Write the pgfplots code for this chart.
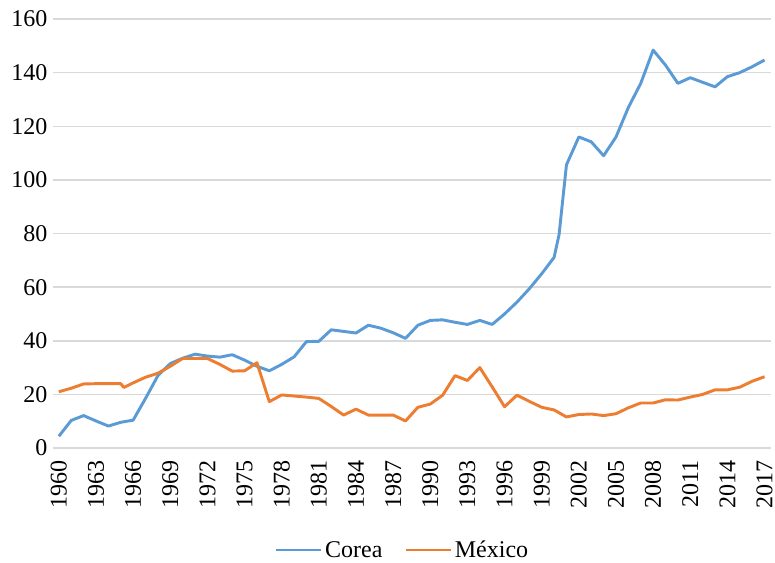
\documentclass[border=0pt]{standalone}
\usepackage{fontspec}
\setmainfont{Liberation Serif}
\usepackage{pgfplots}
\pgfplotsset{compat=1.18}
\definecolor{cblue}{HTML}{5B9BD5}
\definecolor{corange}{HTML}{ED7D31}
\definecolor{cgrid}{HTML}{D9D9D9}
\begin{document}
\begin{tikzpicture}
\begin{axis}[name=ax, scale only axis, width=538.5pt, height=321.75pt,
  xmin=1959.5, xmax=2017.5, ymin=0, ymax=160,
  xtick={1960,1963,...,2017}, ytick={0,20,...,160},
  axis line style={draw=none}, major tick length=0pt,
  ymajorgrids, grid style={cgrid, line width=1.1pt},
  /pgf/number format/assume math mode=true,
  /pgf/number format/1000 sep={},
  tick label style={font=\fontsize{18}{20}\selectfont},
  xticklabel style={yshift=-9pt, rotate=90, anchor=east, inner sep=0pt},
  yticklabel style={anchor=east, inner sep=0pt, xshift=-3.75pt},
  legend style={at={(0.488,-0.238)}, anchor=center, draw=none, legend columns=2,
    font=\fontsize{18}{20}\selectfont,
    /tikz/every even column/.append style={column sep=15pt}},
  legend image code/.code={\draw[#1, line width=1.6pt] (0pt,0pt) -- (33.75pt,0pt);},
]
\addplot[cblue, line width=2.2pt, line join=round] coordinates {
(1960,4.4) (1961,10.3) (1962,12.1) (1963,10.1) (1964,8.2) (1965,9.6) (1966,10.4)
(1967,18.5) (1968,27) (1969,31.5) (1970,33.5) (1971,35) (1972,34.3) (1973,33.9)
(1974,34.8) (1975,32.8) (1976,30.5) (1977,28.8) (1978,31.2) (1979,34) (1980,39.7)
(1981,39.8) (1982,44.1) (1983,43.5) (1984,42.9) (1985,45.8) (1986,44.7) (1987,43)
(1988,40.9) (1989,45.8) (1990,47.6) (1991,47.8) (1992,46.9) (1993,46.1) (1994,47.6)
(1995,46.1) (1996,50) (1997,54.4) (1998,59.4) (1999,65) (2000,71.1) (2000.4,79.5)
(2001,105.6) (2002,116) (2003,114.2) (2004,109) (2005,116) (2006,127) (2007,136)
(2008,148.4) (2009,142.8) (2010,136) (2011,138.1) (2012,136.4) (2013,134.7)
(2014,138.5) (2015,140) (2016,142.2) (2017,144.7)
};
\addlegendentry{Corea}
\addplot[corange, line width=2.2pt, line join=round] coordinates {
(1960,21) (1961,22.3) (1962,23.9) (1963,24) (1964,24) (1965,24) (1965.25,22.6)
(1966,24.3) (1967,26.4) (1968,27.9) (1969,30.5) (1970,33.4) (1971,33.4) (1972,33.4)
(1973,31.2) (1974,28.7) (1975,28.8) (1976,31.8) (1977,17.3) (1978,19.8) (1979,19.4)
(1980,19) (1981,18.5) (1982,15.5) (1983,12.3) (1984,14.5) (1985,12.3) (1986,12.3)
(1987,12.3) (1988,10.1) (1989,15.2) (1990,16.4) (1991,19.7) (1992,27) (1993,25.2)
(1994,30) (1995,22.8) (1996,15.4) (1997,19.7) (1998,17.4) (1999,15.2) (2000,14.2)
(2001,11.6) (2002,12.5) (2003,12.7) (2004,12.1) (2005,12.8) (2006,15) (2007,16.8)
(2008,16.8) (2009,18) (2010,17.9) (2011,19) (2012,20) (2013,21.7) (2014,21.7)
(2015,22.7) (2016,24.9) (2017,26.6)
};
\addlegendentry{México}
\end{axis}
\pgfresetboundingbox
\path ([shift={(-39.5pt,-85.5pt)}]ax.south west) rectangle ([shift={(3.2pt,14.25pt)}]ax.north east);
\end{tikzpicture}
\end{document}
